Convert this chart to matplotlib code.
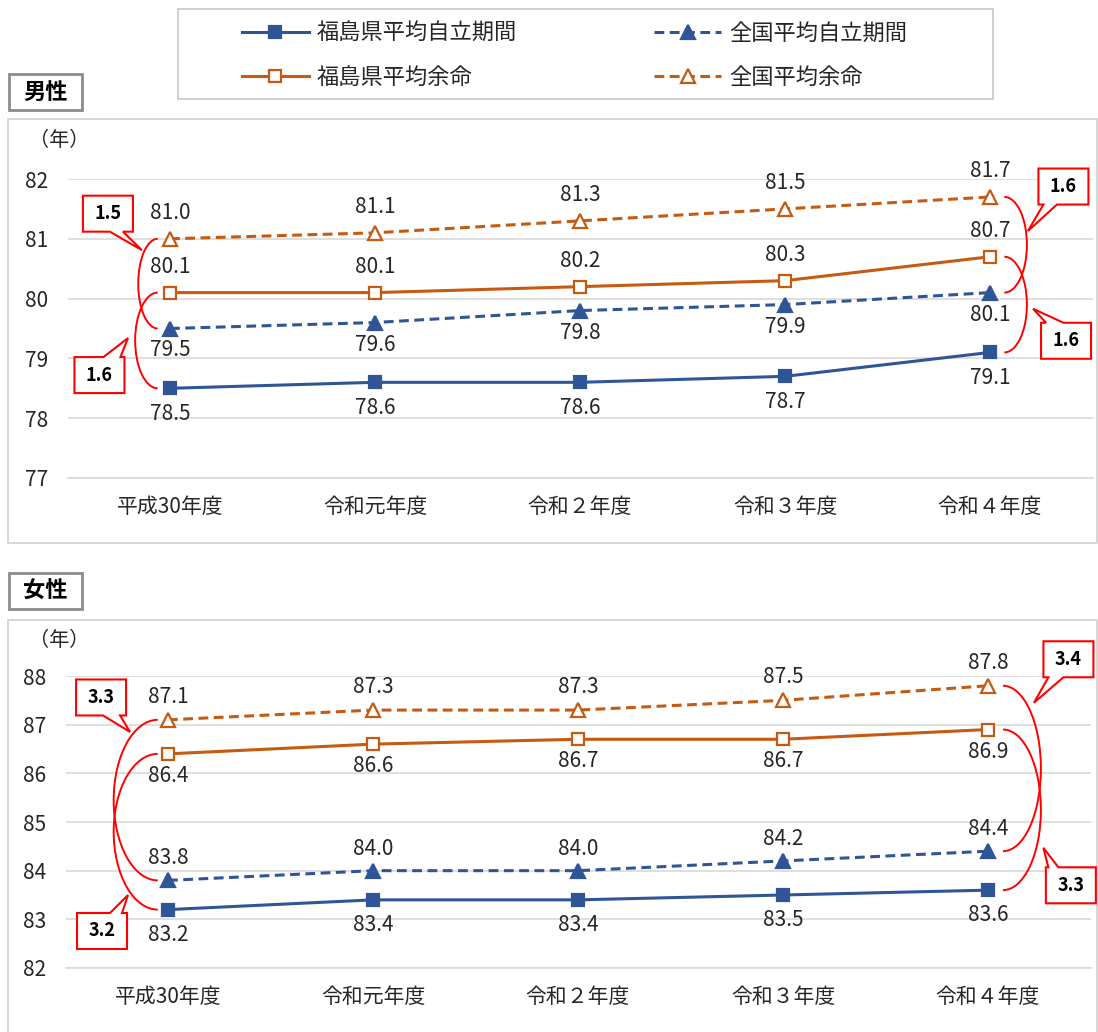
import matplotlib
matplotlib.use('Agg')
import matplotlib.pyplot as plt
from matplotlib.lines import Line2D
from matplotlib.patches import Rectangle, Polygon, Arc

plt.rcParams['font.family'] = ['Noto Sans CJK JP', 'DejaVu Sans']

#   Values per fiscal year (years)

years = ['平成30年度', '令和元年度', '令和２年度', '令和３年度', '令和４年度']

male_fk_hl  = [78.5, 78.6, 78.6, 78.7, 79.1]    # 福島県平均自立期間
male_nat_hl = [79.5, 79.6, 79.8, 79.9, 80.1]    # 全国平均自立期間
male_fk_le  = [80.1, 80.1, 80.2, 80.3, 80.7]    # 福島県平均余命
male_nat_le = [81.0, 81.1, 81.3, 81.5, 81.7]    # 全国平均余命

female_fk_hl  = [83.2, 83.4, 83.4, 83.5, 83.6]
female_nat_hl = [83.8, 84.0, 84.0, 84.2, 84.4]
female_fk_le  = [86.4, 86.6, 86.7, 86.7, 86.9]
female_nat_le = [87.1, 87.3, 87.3, 87.5, 87.8]

male_yticks = [77, 78, 79, 80, 81, 82]
female_yticks = [82, 83, 84, 85, 86, 87, 88]

BLUE = '#2F5597'
ORANGE = '#C55A11'
GRID = '#d9d9d9'
TXT = '#262626'

W, H = 1098, 1032
fig = plt.figure(figsize=(W / 100, H / 100), dpi=100)


def fbox(x0, y0, x1, y1):
    # pixel box (y down) -> figure fraction rectangle
    return (x0 / W, 1 - y1 / H), (x1 - x0) / W, (y1 - y0) / H


def frame(x0, y0, x1, y1, ec, lw):
    xy, w, h = fbox(x0, y0, x1, y1)
    fig.add_artist(Rectangle(xy, w, h, transform=fig.transFigure,
                             fc='none', ec=ec, lw=lw, clip_on=False))


# Panel frames, titles and legend box

frame(8, 119, 1097, 543, '#d0d0d0', 1.2)
frame(8, 620, 1097, 1045, '#d0d0d0', 1.2)
frame(178, 9, 993, 99, '#c8c8c8', 1.2)

for (x0, y0, x1, y1), title in [((9, 74, 82, 110), '男性'),
                                ((9, 573, 82, 609), '女性')]:
    frame(x0, y0, x1, y1, '#8c8c8c', 2.0)
    fig.text((x0 + x1) / 2 / W, 1 - (y0 + y1) / 2 / H, title,
             ha='center', va='center', fontsize=16, fontweight='bold',
             color='black')

fig.text(59 / W, 1 - 140 / H, '（年）', ha='center', va='center',
         fontsize=14.5, color=TXT)
fig.text(59 / W, 1 - 640 / H, '（年）', ha='center', va='center',
         fontsize=14.5, color=TXT)


def series_style(kind):
    if kind == 'fk_hl':
        return dict(color=BLUE, ls='-', marker='s', mfc=BLUE, ms=8.5)
    if kind == 'nat_hl':
        return dict(color=BLUE, ls=(0, (3.2, 1.8)), marker='^', mfc=BLUE, ms=9.5)
    if kind == 'fk_le':
        return dict(color=ORANGE, ls='-', marker='s', mfc='white', ms=8.5)
    return dict(color=ORANGE, ls=(0, (3.2, 1.8)), marker='^', mfc='white', ms=9.5)


def callout(ax, x, y, text, dx, dy, edge, w0, w1):
    # box centred (dx, dy) pixels away from the tip (dy measured downward)
    tx, ty = ax.transData.transform((x, y))
    cx, cy = tx + dx, ty - dy
    bw, bh = 50, 36
    l, r = cx - bw / 2, cx + bw / 2
    b, t = cy - bh / 2, cy + bh / 2
    a0, a1 = l + w0 * bw, l + w1 * bw
    if edge == 'bottom':
        pts = [(l, t), (r, t), (r, b), (a1, b), (tx, ty), (a0, b), (l, b)]
    else:
        pts = [(l, b), (l, t), (a0, t), (tx, ty), (a1, t), (r, t), (r, b)]
    inv = fig.transFigure.inverted()
    fig.add_artist(Polygon(inv.transform(pts), closed=True, fc='white',
                           ec='#ff0000', lw=1.5, transform=fig.transFigure,
                           clip_on=False, zorder=5))
    fx, fy = inv.transform((cx, cy))
    fig.text(fx, fy, text, ha='center', va='center', fontsize=13,
             fontweight='bold', color='black', zorder=6)


def bracket(ax, x0, top, bot, side, off, bulge):
    cx = x0 + side * off
    if side < 0:
        t1, t2 = 90, 270
    else:
        t1, t2 = 270, 90
    ax.add_patch(Arc((cx, (top + bot) / 2), 2 * bulge, top - bot,
                     theta1=t1, theta2=t2, color='#ff0000', lw=1.4,
                     clip_on=False, zorder=4))


def panel(rect, fk_hl, nat_hl, fk_le, nat_le, yticks, offs, arcs, calls):
    ax = fig.add_axes(rect)
    x = list(range(len(years)))
    data = {'fk_hl': fk_hl, 'nat_hl': nat_hl, 'fk_le': fk_le, 'nat_le': nat_le}

    for kind, vals in data.items():
        st = series_style(kind)
        ax.plot(x, vals, color=st['color'], ls=st['ls'], lw=2.2,
                marker=st['marker'], mfc=st['mfc'], mec=st['color'],
                mew=1.6, ms=st['ms'], zorder=3)
        for xi, v in zip(x, vals):
            ax.annotate(f'{v:.1f}', (xi, v), xytext=(0, offs[kind]),
                        textcoords='offset pixels', ha='center',
                        va='center', fontsize=15, color=TXT)

    ax.set_xlim(-0.5, len(years) - 0.5)
    ax.set_ylim(yticks[0], yticks[-1])
    ax.set_yticks(yticks)
    ax.set_xticks(x)
    ax.set_xticklabels(years)
    ax.tick_params(axis='both', length=0, labelsize=15, colors=TXT)
    ax.tick_params(axis='y', pad=14)
    ax.tick_params(axis='x', pad=13)
    ax.grid(axis='y', color=GRID, lw=1.2)
    ax.set_axisbelow(True)
    for s in ['top', 'left', 'right']:
        ax.spines[s].set_visible(False)
    ax.spines['bottom'].set_color(GRID)
    ax.spines['bottom'].set_linewidth(1.2)

    # Brackets and difference callouts (余命 - 自立期間)

    for (i, hi, lo, side, off, bulge) in arcs:
        bracket(ax, i, data[hi][i], data[lo][i], side, off, bulge)

    for (i, hi, lo, tx, ty, dx, dy, edge, w0, w1) in calls:
        diff = round(data[hi][i] - data[lo][i], 1)
        callout(ax, tx, ty, f'{diff:.1f}', dx, dy, edge, w0, w1)

    return ax


male_offs = {'fk_hl': -26, 'nat_hl': -22, 'fk_le': 26, 'nat_le': 26}
male_arcs = [(0, 'nat_le', 'nat_hl', -1, 0.06, 0.095),
             (0, 'fk_le', 'fk_hl', -1, 0.06, 0.11),
             (4, 'nat_le', 'nat_hl', 1, 0.07, 0.11),
             (4, 'fk_le', 'fk_hl', 1, 0.07, 0.11)]
male_calls = [(0, 'nat_le', 'nat_hl', -0.137, 80.81, -34, -36.5, 'bottom', 0.54, 0.8),
              (0, 'fk_le', 'fk_hl', -0.205, 79.34, -28.5, 37, 'top', 0.58, 0.92),
              (4, 'nat_le', 'nat_hl', 4.185, 81.13, 35.5, -44.5, 'bottom', 0.1, 0.37),
              (4, 'fk_le', 'fk_hl', 4.21, 79.83, 33, 32, 'top', 0.1, 0.45)]

panel([67.5 / W, 1 - 478 / H, 1025 / W, (478 - 179) / H],
      male_fk_hl, male_nat_hl, male_fk_le, male_nat_le, male_yticks,
      male_offs, male_arcs, male_calls)

female_offs = {'fk_hl': -25, 'nat_hl': 22, 'fk_le': -22, 'nat_le': 23}
female_arcs = [(0, 'nat_le', 'nat_hl', -1, 0.05, 0.215),
               (0, 'fk_le', 'fk_hl', -1, 0.05, 0.215),
               (4, 'nat_le', 'nat_hl', 1, 0.073, 0.185),
               (4, 'fk_le', 'fk_hl', 1, 0.073, 0.185)]
female_calls = [(0, 'nat_le', 'nat_hl', -0.185, 86.85, -29, -34.5, 'bottom', 0.54, 0.88),
                (0, 'fk_le', 'fk_hl', -0.195, 83.50, -26, 36, 'top', 0.66, 0.9),
                (4, 'nat_le', 'nat_hl', 4.224, 87.45, 34.5, -43.5, 'bottom', 0.1, 0.4),
                (4, 'fk_le', 'fk_hl', 4.27, 84.47, 27.5, 37.5, 'top', 0.05, 0.25)]

panel([65.5 / W, 1 - 968 / H, 1025 / W, (968 - 676) / H],
      female_fk_hl, female_nat_hl, female_fk_le, female_nat_le, female_yticks,
      female_offs, female_arcs, female_calls)

# Legend

handles = []
labels = ['福島県平均自立期間', '福島県平均余命', '全国平均自立期間', '全国平均余命']
for kind in ['fk_hl', 'fk_le', 'nat_hl', 'nat_le']:
    st = series_style(kind)
    handles.append(Line2D([], [], color=st['color'], ls=st['ls'], lw=2.2,
                          marker=st['marker'], mfc=st['mfc'], mec=st['color'],
                          mew=1.6, ms=st['ms']))

fig.legend(handles, labels, loc='center left', ncol=2, frameon=False,
           bbox_to_anchor=(242 / W, 1 - 55 / H), borderpad=0, borderaxespad=0,
           handlelength=3.0, handletextpad=0.35,
           columnspacing=6.2, labelspacing=0.95, prop={'size': 16},
           labelcolor=TXT)

fig.savefig('out.png', dpi=100)
